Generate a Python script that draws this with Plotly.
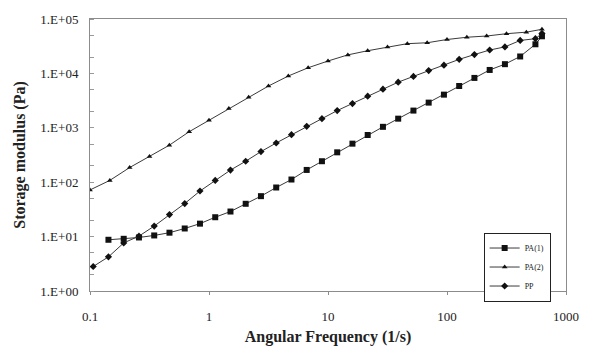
import plotly.graph_objects as go

# ---- data ----
freq_pa2 = [0.1, 0.1468, 0.2154, 0.3162, 0.4642, 0.6813, 1.0, 1.468, 2.154, 3.162,
            4.642, 6.813, 10.0, 14.68, 21.54, 31.62, 46.42, 68.13, 100.0, 146.8,
            215.4, 316.2, 464.2, 628.0]
g_pa2 = [72, 108, 186, 297, 479, 847, 1380, 2275, 3660, 5870,
         8960, 12700, 16900, 21900, 26100, 30700, 35200, 36600, 42000, 46200,
         48700, 53700, 57300, 64700]

freq_pp = [0.1064, 0.1429, 0.1920, 0.2579, 0.3464, 0.4654, 0.6251, 0.8397, 1.128, 1.515,
           2.034, 2.733, 3.671, 4.931, 6.622, 8.894, 11.95, 16.05, 21.56, 28.95,
           38.89, 52.24, 70.16, 94.23, 126.6, 170.0, 228.4, 306.7, 412.0, 553.4, 628.0]
g_pp = [2.82, 4.24, 7.65, 10.2, 15.6, 25.4, 40.5, 68.8, 108, 167,
        243, 365, 526, 749, 1063, 1472, 2072, 2787, 3813, 5131,
        6908, 8814, 11250, 14190, 18110, 22200, 26880, 30730, 40360, 43430, 54330]

freq_pa1 = freq_pp[1:]
g_pa1 = [8.74, 9.11, 9.64, 10.5, 11.8, 14.1, 17.3, 22.7, 28.9,
         40.1, 55.4, 79.9, 112, 168, 243, 354, 511, 737, 1042,
         1472, 2072, 2903, 4070, 5870, 8260, 11570, 14780, 20470, 34300, 48100]

y_tickvals = [1, 10, 100, 1000, 10000, 100000]
y_ticktext = ["1.E+00", "1.E+01", "1.E+02", "1.E+03", "1.E+04", "1.E+05"]
x_tickvals = [0.1, 1, 10, 100, 1000]
x_ticktext = ["0.1", "1", "10", "100", "1000"]

FONT = "Liberation Serif"
LINE = "#3a3a3a"

fig = go.Figure()
fig.add_trace(go.Scatter(x=freq_pa1, y=g_pa1, name="PA(1)", mode="lines+markers",
                         line=dict(color=LINE, width=1),
                         marker=dict(symbol="square", size=6, color="#111")))
fig.add_trace(go.Scatter(x=freq_pa2, y=g_pa2, name="PA(2)", mode="lines+markers",
                         line=dict(color=LINE, width=1),
                         marker=dict(symbol="triangle-up", size=5, color="#111")))
fig.add_trace(go.Scatter(x=freq_pp, y=g_pp, name="PP", mode="lines+markers",
                         line=dict(color=LINE, width=1),
                         marker=dict(symbol="diamond", size=5.5, color="#111")))

axis_common = dict(showline=True, linecolor="#8c8c8c", linewidth=1, mirror=True,
                   showgrid=False, zeroline=False,
                   tickfont=dict(family=FONT, size=13, color="#222"))

fig.update_xaxes(type="log", range=[-1, 3], tickvals=x_tickvals, ticktext=x_ticktext,
                 ticks="outside", ticklen=3, tickcolor="#8c8c8c",
                 ticklabelstandoff=10,
                 title=dict(text="Angular Frequency (1/s)", standoff=8,
                            font=dict(family=FONT, size=16, color="#222", weight="bold")),
                 **axis_common)
fig.update_yaxes(type="log", range=[0, 5], tickvals=y_tickvals, ticktext=y_ticktext,
                 ticks="", ticklabelstandoff=8,
                 minor=dict(ticks="inside", ticklen=4, tickcolor="#9a9a9a", dtick="D2"),
                 title=dict(text="Storage modulus (Pa)", standoff=10,
                            font=dict(family=FONT, size=16, color="#222", weight="bold")),
                 **axis_common)

fig.update_layout(
    width=591, height=355,
    margin=dict(l=90, r=14, t=17, b=55),
    paper_bgcolor="white", plot_bgcolor="white",
    showlegend=True,
    legend=dict(x=0.827, y=0.215, xanchor="left", yanchor="top",
                bgcolor="white", bordercolor="#222", borderwidth=1,
                font=dict(family=FONT, size=8, color="#222"),
                itemwidth=30, tracegroupgap=0),
)

fig.write_html("out.html")
